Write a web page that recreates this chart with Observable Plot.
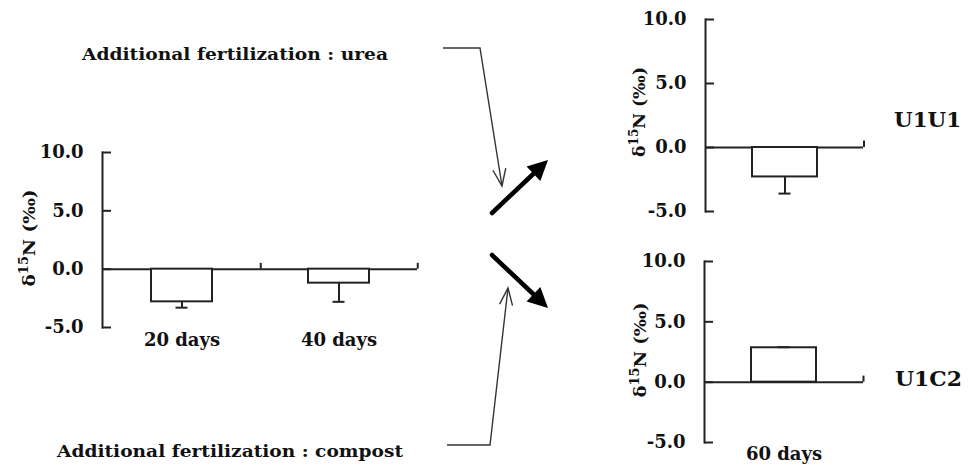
<!DOCTYPE html>
<html><head><meta charset="utf-8">
<script src="https://cdn.jsdelivr.net/npm/d3@7"></script>
<script src="https://cdn.jsdelivr.net/npm/@observablehq/plot@0.6"></script>
<style>
html,body{margin:0;padding:0;background:#fff;}
#fig{position:relative;width:971px;height:471px;overflow:hidden;background:#fff;}
#fig > svg{position:absolute;}
</style></head><body><div id="fig"></div>
<script>
// ---- data ----
const yTicks = [-5, 0, 5, 10];
const leftCategories = ["20 days", "40 days"];
const leftMeans = [-2.8, -1.2];
const leftErrors = [0.5, 1.6];
const u1u1Categories = ["60 days"];
const u1u1Means = [-2.3];
const u1u1Errors = [1.3];
const u1c2Categories = ["60 days"];
const u1c2Means = [2.85];
const u1c2Errors = [0.05];
const seriesLabels = ["U1U1", "U1C2"];
const noteLabels = ["Additional fertilization : urea", "Additional fertilization : compost"];

const INK = "#222";
const FONT = "'DejaVu Serif', 'Liberation Serif', serif";
const fig = document.getElementById("fig");

function panel({cats, means, errs, left, top, width, height, ml, mr, mt, mb, barW, capW, showX, tickPadX}) {
  const data = cats.map((c, i) => ({cat: c, mean: means[i], err: errs[i], end: means[i] + Math.sign(means[i]) * errs[i]}));
  const step = (width - ml - mr) / cats.length;
  const pad = 1 - barW / step;
  const capInset = (barW - capW) / 2;
  const svg = Plot.plot({
    width, height, marginLeft: ml, marginRight: mr, marginTop: mt, marginBottom: mb,
    style: {background: "transparent", overflow: "visible", fontFamily: FONT, fontWeight: "bold", fontSize: "18px", color: INK},
    x: {type: "band", domain: cats, paddingInner: pad, paddingOuter: pad / 2, align: 0.5, axis: null},
    y: {domain: [-5, 10], axis: null},
    marks: [
      Plot.frame({anchor: "left", stroke: INK, strokeWidth: 2}),
      Plot.ruleY([0], {stroke: INK, strokeWidth: 2}),
      Plot.ruleX(cats, {x: d => d, y1: 0, y2: 0.5, dx: step / 2, stroke: INK, strokeWidth: 2}),
      Plot.axisY({ticks: yTicks, tickSize: 9, dx: 9, fill: "none", stroke: INK, strokeWidth: 2, label: null}),
      Plot.axisY({ticks: yTicks, tickSize: 0, tickPadding: 19, tickFormat: d => d.toFixed(1), fill: "#111", fontSize: 18, fontWeight: "bold", label: null}),
      Plot.barY(data, {x: "cat", y: "mean", fill: "white", stroke: INK, strokeWidth: 2}),
      Plot.ruleX(data, {x: "cat", y1: "mean", y2: "end", stroke: INK, strokeWidth: 2}),
      Plot.tickY(data, {x: "cat", y: "end", stroke: INK, strokeWidth: 2, insetLeft: capInset, insetRight: capInset}),
      showX ? Plot.axisX({tickSize: 0, tickPadding: tickPadX, fill: "#111", fontSize: 18, fontWeight: "bold", label: null}) : null
    ]
  });
  svg.style.left = left + "px";
  svg.style.top = top + "px";
  fig.appendChild(svg);
}

panel({cats: leftCategories, means: leftMeans, errs: leftErrors, left: 0, top: 0, width: 440, height: 471,
  ml: 102, mr: 23, mt: 152, mb: 144, barW: 61, capW: 12, showX: true, tickPadX: 6});
panel({cats: u1u1Categories, means: u1u1Means, errs: u1u1Errors, left: 590, top: 0, width: 381, height: 235,
  ml: 115, mr: 108, mt: 19, mb: 24, barW: 65, capW: 12, showX: false, tickPadX: 6});
panel({cats: u1c2Categories, means: u1c2Means, errs: u1c2Errors, left: 590, top: 235, width: 381, height: 236,
  ml: 114, mr: 108, mt: 26, mb: 29, barW: 65, capW: 12, showX: true, tickPadX: 5});

// ---- annotations overlay ----
const ov = d3.select(fig).append("svg")
  .attr("width", 971).attr("height", 471)
  .style("left", "0px").style("top", "0px").style("pointer-events", "none")
  .attr("font-family", FONT).attr("font-weight", "bold").attr("fill", "#111");

ov.append("text").attr("x", 82).attr("y", 60).attr("font-size", 17)
  .attr("textLength", 306).attr("lengthAdjust", "spacingAndGlyphs").text(noteLabels[0]);
ov.append("text").attr("x", 57).attr("y", 457).attr("font-size", 17)
  .attr("textLength", 346).attr("lengthAdjust", "spacingAndGlyphs").text(noteLabels[1]);

ov.append("text").attr("x", 894).attr("y", 127).attr("font-size", 21)
  .attr("textLength", 67).attr("lengthAdjust", "spacingAndGlyphs").text(seriesLabels[0]);
ov.append("text").attr("x", 895).attr("y", 386).attr("font-size", 21)
  .attr("textLength", 67).attr("lengthAdjust", "spacingAndGlyphs").text(seriesLabels[1]);

function yTitle(bx, cy, len) {
  const t = ov.append("text")
    .attr("transform", `translate(${bx},${cy}) rotate(-90)`)
    .attr("text-anchor", "middle").attr("font-size", 17)
    .attr("textLength", len).attr("lengthAdjust", "spacingAndGlyphs");
  t.append("tspan").text("δ");
  t.append("tspan").attr("font-size", 12).attr("dy", "-7").text("15");
  t.append("tspan").attr("dy", "7").text("N (‰)");
}
yTitle(35, 238, 97);
yTitle(645, 112, 90);
yTitle(646, 350, 95);

function headPts(x1, y1, x2, y2, len, half) {
  const dx = x2 - x1, dy = y2 - y1, L = Math.hypot(dx, dy);
  const ux = dx / L, uy = dy / L;
  const bx = x2 - ux * len, by = y2 - uy * len;
  return {base: [bx, by], pts: [[bx - uy * half, by + ux * half], [x2, y2], [bx + uy * half, by - ux * half]]};
}
const line = d3.line();
function thinArrow(points) {
  ov.append("path").attr("d", line(points)).attr("fill", "none").attr("stroke", "#333").attr("stroke-width", 1.4);
  const n = points.length;
  const h = headPts(...points[n - 2], ...points[n - 1], 17, 6.5);
  ov.append("path").attr("d", line(h.pts)).attr("fill", "none").attr("stroke", "#333").attr("stroke-width", 1.4);
}
function boldArrow(x1, y1, x2, y2) {
  const h = headPts(x1, y1, x2, y2, 20, 10);
  ov.append("line").attr("x1", x1).attr("y1", y1).attr("x2", h.base[0]).attr("y2", h.base[1])
    .attr("stroke", "#000").attr("stroke-width", 4.5).attr("stroke-linecap", "round");
  ov.append("path").attr("d", line(h.pts) + "Z").attr("fill", "#000");
}
thinArrow([[443, 48], [480, 48], [502, 186]]);
thinArrow([[447, 445], [490, 445], [508, 288]]);
boldArrow(492, 213, 548, 160);
boldArrow(492, 255, 548, 308);
</script></body></html>
